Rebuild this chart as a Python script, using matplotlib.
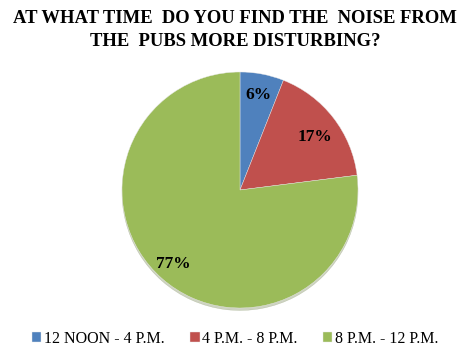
import numpy as np
import matplotlib.pyplot as plt

# data
labels = ["12 NOON - 4 P.M.", "4 P.M. - 8 P.M.", "8 P.M. - 12 P.M."]
values = [6, 17, 77]
colors = ["#4F81BD", "#C0504D", "#9BBB59"]
title = "AT WHAT TIME  DO YOU FIND THE  NOISE FROM\nTHE  PUBS MORE DISTURBING?"

plt.rcParams['font.family'] = ['Liberation Serif', 'DejaVu Serif']

fig = plt.figure(figsize=(4.7, 3.49), dpi=100)
fig.patch.set_facecolor("white")

# pie axes (center ~ (240,190) px, radius ~118 px)
W, H = 470, 349
cx, cy, r = 240, 349 - 190, 118
ax = fig.add_axes([(cx - r) / W, (cy - r) / H, 2 * r / W, 2 * r / H])

wedges, texts, autotexts = ax.pie(
    values, colors=colors, startangle=90, counterclock=False,
    autopct="%d%%", pctdistance=0.82, radius=1.0,
    shadow={'ox': 0.0, 'oy': -0.015, 'shade': 0.4, 'alpha': 0.3},
    wedgeprops=dict(linewidth=0.3, edgecolor="#e8e8e8"),
    textprops=dict(fontsize=12.5, fontweight="bold", color="black"))
ax.set_xlim(-1, 1)
ax.set_ylim(-1, 1)
ax.set_aspect("equal")

# best-fit style placement for the big slice label
ang = np.deg2rad(-132)
autotexts[2].set_position((0.84 * np.cos(ang), 0.84 * np.sin(ang)))
autotexts[1].set_position((0.78 * np.cos(np.deg2rad(35)), 0.78 * np.sin(np.deg2rad(35))))

fig.text(0.5, 1 - 30 / H, title, ha="center", va="center", fontsize=13.4,
         fontweight="bold", linespacing=1.4)

fig.legend(wedges, labels, loc="center", bbox_to_anchor=(0.5, 1 - 339 / H),
           ncol=3, frameon=False, fontsize=11.5, handlelength=0.6, handleheight=0.6,
           handletextpad=0.15, columnspacing=1.6, borderpad=0.1)

fig.savefig("out.png", dpi=100)
